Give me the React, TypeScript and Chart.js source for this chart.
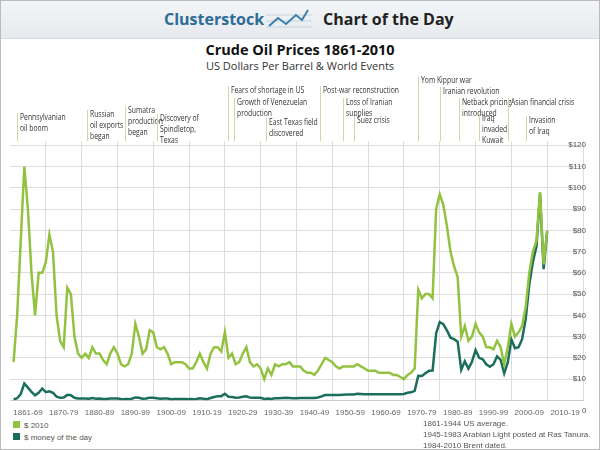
import { useEffect, useRef } from "react";
import { Chart, registerables } from "chart.js";

Chart.register(...registerables);

const firstYear = 1861;
const years = Array.from({ length: 150 }, (_, i) => firstYear + i);

// $ 2010 (inflation adjusted)
const real2010 = [
  18, 40, 75, 110, 90, 60, 40, 60, 60, 65,
  78, 70, 40, 28, 25, 53, 50, 30, 22, 20,
  22, 20, 25, 22, 22, 19, 17, 22, 25, 22,
  17, 16, 17, 22, 36, 30, 22, 24, 33, 32,
  25, 24, 25, 22, 17, 18, 18, 18, 17, 15,
  15, 18, 22, 18, 15, 22, 25, 25, 23, 32,
  20, 22, 17, 18, 22, 25, 18, 16, 17, 15,
  10, 15, 12, 17, 16, 17, 17, 18, 16, 16,
  16, 14, 13, 13, 12, 14, 17, 20, 19, 18,
  16, 15, 16, 16, 16, 16, 17, 16, 15, 14,
  14, 14, 13, 13, 13, 13, 12, 12, 11, 10,
  12, 13, 15, 52, 48, 50, 50, 48, 90, 97,
  92, 82, 70, 63, 58, 30, 35, 28, 30, 36,
  32, 30, 25, 25, 24, 28, 25, 17, 25, 36,
  30, 32, 35, 44, 60, 70, 75, 98, 64, 80,
];

// $ money of the day (nominal)
const nominal = [
  0.5, 1, 3, 8, 6, 4, 2.4, 3.6, 5.6, 3.9,
  4.3, 3.6, 1.8, 1.2, 1.4, 2.6, 2.4, 1.2, 0.9, 0.9,
  0.9, 0.8, 1.1, 0.8, 0.9, 0.7, 0.7, 0.9, 0.9, 0.9,
  0.7, 0.6, 0.6, 0.8, 1.4, 1.2, 0.8, 0.9, 1.3, 1.2,
  1, 0.8, 0.9, 0.9, 0.6, 0.7, 0.7, 0.7, 0.7, 0.6,
  0.6, 0.7, 1, 0.8, 0.6, 1.1, 1.6, 2, 2, 3.1,
  1.7, 1.6, 1.3, 1.4, 1.7, 1.9, 1.3, 1.2, 1.3, 1.2,
  0.7, 0.9, 0.7, 1, 1, 1.1, 1.2, 1.1, 1, 1,
  1.1, 1.1, 1.1, 1.1, 1.1, 1.4, 1.9, 2.5, 2.5, 2.5,
  2.5, 2.5, 2.7, 2.8, 2.8, 2.8, 3.1, 3, 2.9, 2.9,
  2.9, 2.9, 2.9, 2.9, 2.9, 2.9, 2.9, 2.9, 2.9, 3,
  3.6, 3.8, 4.5, 11.6, 11.5, 12.8, 13.9, 14, 31.6, 36.8,
  35.9, 32.9, 29.5, 28.8, 27.6, 14.4, 18.4, 14.9, 18.2, 23.7,
  20, 19.3, 17, 15.8, 17, 20.7, 19.1, 12.7, 17.9, 28.7,
  24.5, 25, 28.8, 38.3, 54.5, 65.1, 72.4, 97, 61.7, 79.5,
];

const decadeLabels = [
  "1861-69", "1870-79", "1880-89", "1890-99", "1900-09", "1910-19", "1920-29", "1930-39",
  "1940-49", "1950-59", "1960-69", "1970-79", "1980-89", "1990-99", "2000-09", "2010-19",
];
const decadeMids = [1865, 1875, 1885, 1895, 1905, 1915, 1925, 1935, 1945, 1955, 1965, 1975, 1985, 1995, 2005, 2015];
const decadeLines = [1870, 1880, 1890, 1900, 1910, 1920, 1930, 1940, 1950, 1960, 1970, 1980, 1990, 2000, 2010, 2020];
const yTicks = [10, 20, 30, 40, 50, 60, 70, 80, 90, 100, 110, 120];

// world events
const eventYears = [1862, 1881.5, 1892, 1901, 1921, 1922.5, 1931.5, 1946.5, 1953, 1956, 1974, 1980, 1985.5, 1991, 1999, 2004];
const eventTexts = [
  ["Pennsylvanian", "oil boom"],
  ["Russian", "oil exports", "began"],
  ["Sumatra", "production", "began"],
  ["Discovery of", "Spindletop,", "Texas"],
  ["Fears of shortage in US"],
  ["Growth of Venezuelan", "production"],
  ["East Texas field", "discovered"],
  ["Post-war reconstruction"],
  ["Loss of Iranian", "supplies"],
  ["Suez crisis"],
  ["Yom Kippur war"],
  ["Iranian revolution"],
  ["Netback pricing", "introduced"],
  ["Iraq", "invaded", "Kuwait"],
  ["Asian financial crisis"],
  ["Invasion", "of Iraq"],
];
const eventTops = [44, 41, 37, 45, 17, 29, 49, 17, 29, 47, 7, 18, 29, 45, 29, 47];

const LIGHT = "#93c241";
const DARK = "#1c6e5c";

const eventsPlugin = {
  id: "events",
  afterDraw(chart: any) {
    const { ctx, chartArea, scales } = chart;
    ctx.save();
    ctx.font = "8.5px 'Open Sans', sans-serif";
    ctx.fillStyle = "#333";
    ctx.textBaseline = "top";
    eventYears.forEach((yr, i) => {
      const x = Math.round(scales.x.getPixelForValue(yr));
      const top = eventTops[i];
      ctx.strokeStyle = "#c7dca6";
      ctx.lineWidth = 1;
      ctx.beginPath();
      ctx.moveTo(x + 0.5, top);
      ctx.lineTo(x + 0.5, chartArea.top);
      ctx.stroke();
      ctx.save();
      ctx.translate(x + 3, top);
      ctx.scale(0.8, 1);
      eventTexts[i].forEach((t, j) => ctx.fillText(t, 0, j * 11));
      ctx.restore();
    });
    ctx.restore();
  },
};

const tickFont = { size: 8, family: "Liberation Sans" };

function OilChart() {
  const ref = useRef<HTMLCanvasElement | null>(null);
  useEffect(() => {
    if (!ref.current) return;
    const chart = new Chart(ref.current, {
      type: "line",
      data: {
        datasets: [
          {
            label: "$ 2010",
            data: years.map((y, i) => ({ x: y, y: real2010[i] })),
            borderColor: LIGHT,
            borderWidth: 2.5,
            pointRadius: 0,
          },
          {
            label: "$ money of the day",
            data: years.map((y, i) => ({ x: y, y: nominal[i] })),
            borderColor: DARK,
            borderWidth: 2.5,
            pointRadius: 0,
          },
        ],
      },
      options: {
        animation: false,
        responsive: false,
        layout: { padding: { top: 72, left: 9, right: 10 } },
        plugins: { legend: { display: false }, tooltip: { enabled: false } },
        scales: {
          x: {
            type: "linear",
            min: 1860,
            max: 2020,
            afterBuildTicks: (axis: any) => {
              axis.ticks = decadeLines.map((v) => ({ value: v }));
            },
            grid: { color: "#dddddd", drawTicks: false },
            border: { color: "#cccccc" },
            ticks: { display: false },
          },
          x2: {
            type: "linear",
            min: 1860,
            max: 2020,
            position: "bottom",
            afterBuildTicks: (axis: any) => {
              axis.ticks = decadeMids.map((v) => ({ value: v }));
            },
            grid: { display: false },
            border: { display: false },
            ticks: {
              color: "#666",
              font: tickFont,
              maxRotation: 0,
              autoSkip: false,
              padding: 0,
              callback: (v: any) => decadeLabels[decadeMids.indexOf(v)],
            },
          },
          y: {
            position: "right",
            min: 0,
            max: 122,
            grid: { color: "#dddddd", drawTicks: false },
            border: { display: false },
            afterBuildTicks: (axis: any) => {
              axis.ticks = yTicks.map((v) => ({ value: v }));
            },
            ticks: {
              mirror: true,
              color: "#555",
              font: tickFont,
              padding: 3,
              callback: (v: any) => "$" + v,
            },
          },
        },
      },
      plugins: [eventsPlugin],
    } as any);
    return () => chart.destroy();
  }, []);
  return <canvas ref={ref} width={598} height={349} style={{ position: "absolute", left: 0, top: 68 }} />;
}

export default function App() {
  useEffect(() => {
    document.body.style.margin = "0";
  }, []);
  const sans = "'Open Sans', 'Liberation Sans', sans-serif";
  return (
    <div style={{ position: "relative", width: 598, height: 448, border: "1px solid #bbb", background: "#fff", fontFamily: sans, overflow: "hidden" }}>
      <div style={{ position: "absolute", left: 0, top: 0, width: 598, height: 37, background: "linear-gradient(#f3f5f7,#e6eaee)", borderBottom: "1px solid #d5dade" }}>
        <span style={{ position: "absolute", left: 163, top: 7, fontSize: 16, fontWeight: 700, color: "#2e6b96" }}>Clusterstock</span>
        <svg style={{ position: "absolute", left: 265, top: 6 }} width="46" height="26">
          <line x1="0" y1="8" x2="46" y2="8" stroke="#c8d3dc" />
          <line x1="0" y1="14" x2="46" y2="14" stroke="#c8d3dc" />
          <line x1="0" y1="20" x2="46" y2="20" stroke="#c8d3dc" />
          <polyline points="3,19 12,11 20,17 30,8 36,13 42,3" fill="none" stroke="#3f7fae" strokeWidth="2" />
        </svg>
        <span style={{ position: "absolute", left: 322, top: 7, fontSize: 16, fontWeight: 700, color: "#222" }}>Chart of the Day</span>
      </div>
      <div style={{ position: "absolute", left: 0, width: 598, top: 39, textAlign: "center", fontSize: 14.5, fontWeight: 700, color: "#111" }}>Crude Oil Prices 1861-2010</div>
      <div style={{ position: "absolute", left: 0, width: 598, top: 57, textAlign: "center", fontSize: 11, color: "#333" }}>US Dollars Per Barrel &amp; World Events</div>
      <OilChart />
      <div style={{ position: "absolute", left: 581, top: 405, fontSize: 8, color: "#555", fontFamily: "Liberation Sans" }}>0</div>
      <div style={{ position: "absolute", left: 12, top: 420, fontSize: 8, color: "#555", fontFamily: "Liberation Sans" }}>
        <div><span style={{ display: "inline-block", width: 7, height: 7, background: LIGHT, marginRight: 4 }} />$ 2010</div>
        <div style={{ marginTop: 3 }}><span style={{ display: "inline-block", width: 7, height: 7, background: DARK, marginRight: 4 }} />$ money of the day</div>
      </div>
      <div style={{ position: "absolute", left: 422, top: 417, fontSize: 8, lineHeight: "11px", color: "#555", fontFamily: "Liberation Sans" }}>
        <div>1861-1944 US average.</div>
        <div>1945-1983 Arabian Light posted at Ras Tanura.</div>
        <div>1984-2010 Brent dated.</div>
      </div>
    </div>
  );
}
